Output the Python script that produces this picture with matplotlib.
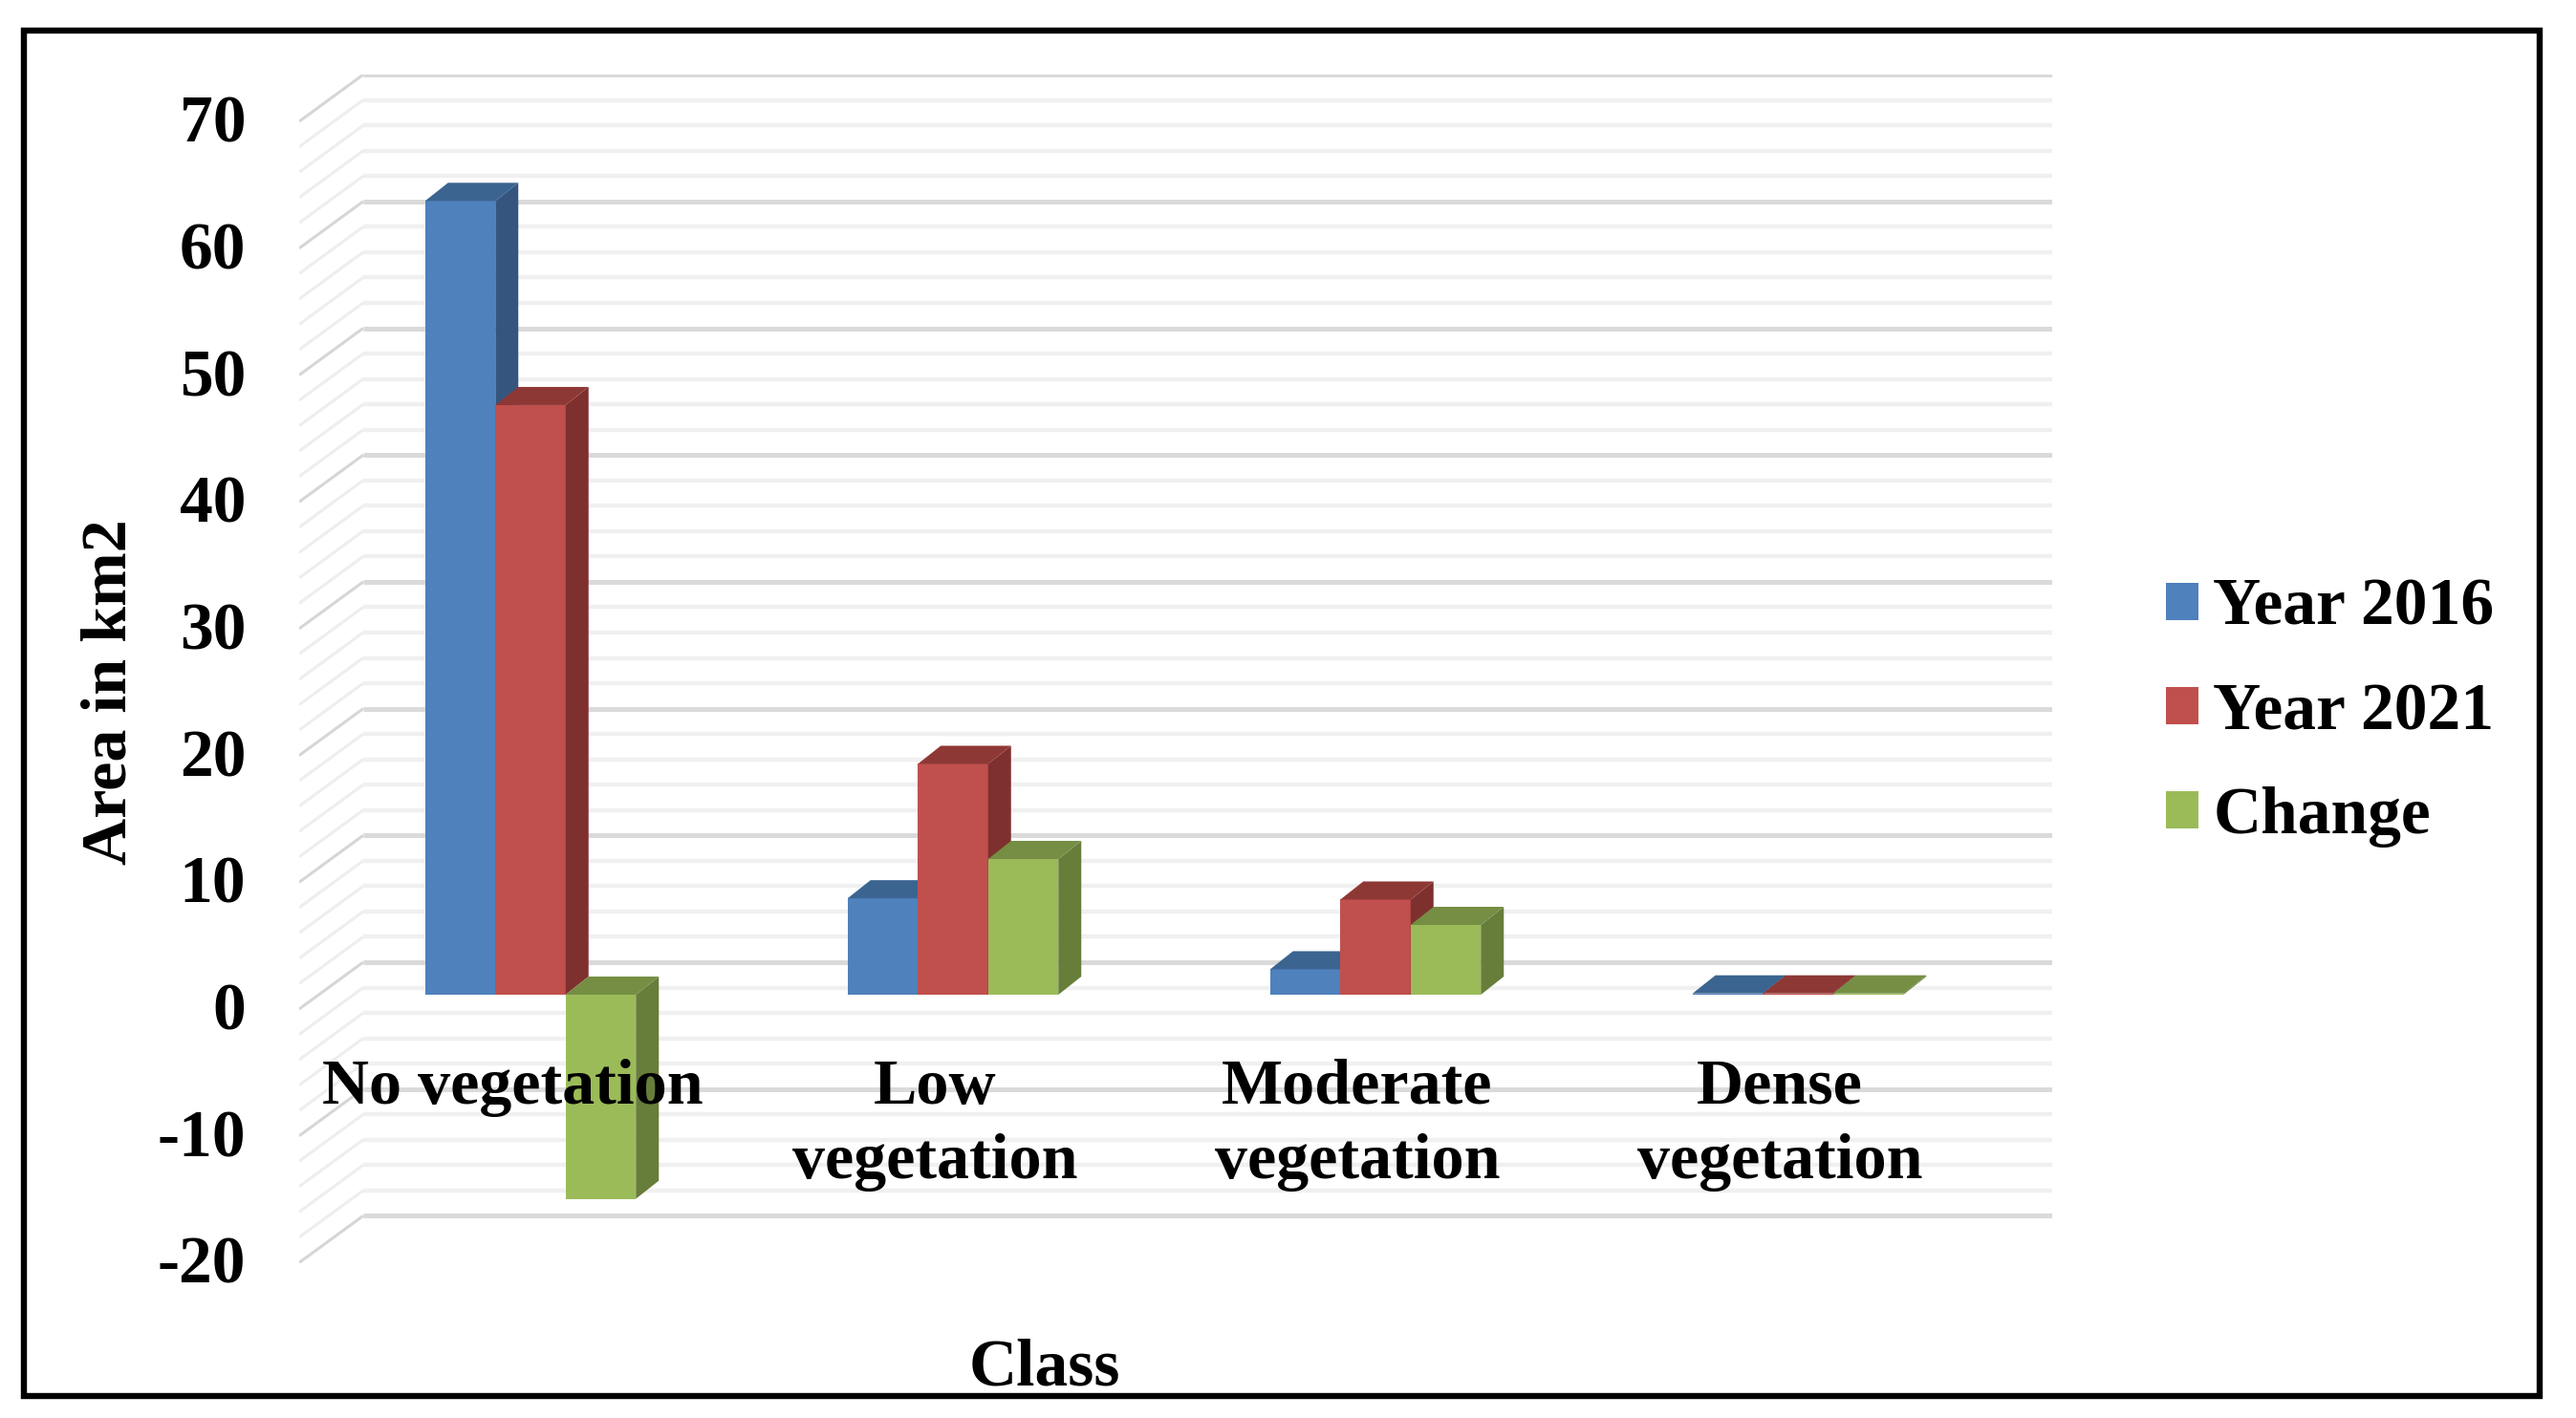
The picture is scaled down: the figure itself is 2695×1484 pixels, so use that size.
import numpy as np
import matplotlib
matplotlib.use("Agg")
import matplotlib.pyplot as plt
from matplotlib.patches import Polygon, Rectangle
from matplotlib.transforms import ScaledTranslation

W, H = 2695, 1484
DPI = 100

# data
classes = ["No vegetation", "Low\nvegetation", "Moderate\nvegetation", "Dense\nvegetation"]
year_2016 = [62.6, 7.6, 2.0, 0.1]
year_2021 = [46.5, 18.2, 7.5, 0.1]
change = [-16.1, 10.7, 5.5, 0.1]
series_names = ["Year 2016", "Year 2021", "Change"]
y_ticks = [-20, -10, 0, 10, 20, 30, 40, 50, 60, 70]
minor_ticks = list(range(-20, 71, 2))

front_cols = ["#4F81BD", "#C0504D", "#9BBB59"]
side_cols = ["#35557F", "#7E302E", "#677D3A"]
top_cols = ["#3B6491", "#8E3835", "#758E43"]

# layout in pixels of the final image
px_per_cat = 442.0
px_per_unit = 13.27
x0_px = 555.0   # front centre of first group
y0_px = 1041.0  # front zero line of the bars
ax_l, ax_r, ax_t, ax_b = 313, 2147, 78, 1322

plt.rcParams["font.family"] = ["Liberation Serif", "DejaVu Serif"]
plt.rcParams["font.weight"] = "bold"

fig = plt.figure(figsize=(W / DPI, H / DPI), dpi=DPI, facecolor="white")
ax = fig.add_axes([ax_l / W, 1 - ax_b / H, (ax_r - ax_l) / W, (ax_b - ax_t) / H])
ax.set_xlim((ax_l - x0_px) / px_per_cat, (ax_r - x0_px) / px_per_cat)
ax.set_ylim((y0_px - ax_b) / px_per_unit, (y0_px - ax_t) / px_per_unit)
ax.patch.set_visible(False)
for s in ["top", "right", "left"]:
    ax.spines[s].set_visible(False)
ax.spines["bottom"].set_position(("data", 0))
ax.spines["bottom"].set_visible(False)

# back wall and side wall grid
back_dy = 34 / px_per_unit
wall_dx = 67 / px_per_cat
side_drop = 49 / px_per_unit
x_left, x_right = ax.get_xlim()
for v in minor_ticks:
    major = v in y_ticks
    col = "#DADADA" if major else "#F0F0F0"
    lw = 3.6 if major else 3.2
    yb = v + back_dy
    ax.plot([x_left + wall_dx, x_right], [yb, yb], color=col, lw=lw, zorder=0.5, solid_capstyle="butt")
    ax.plot([x_left, x_left + wall_dx], [yb - side_drop, yb], color="#D6D6D6" if major else "#EEEEEE",
            lw=2.2, zorder=0.5, solid_capstyle="butt")

# bars with a fake 3D look
bar_w = 73.5 / px_per_cat
dep_x = 24 / px_per_cat
dep_y = 19 / px_per_unit
x = np.arange(len(classes))
handles = []
for i, vals in enumerate([year_2016, year_2021, change]):
    xs = x + (i - 1) * bar_w
    bars = ax.bar(xs, vals, width=bar_w, color=front_cols[i], label=series_names[i], zorder=1)
    handles.append(bars)
    for xc, v in zip(xs, vals):
        l, r = xc - bar_w / 2, xc + bar_w / 2
        top = max(v, 0)
        low = min(v, 0)
        ax.add_patch(Polygon([(r, low), (r + dep_x, low + dep_y), (r + dep_x, top + dep_y), (r, top)],
                             closed=True, fc=side_cols[i], ec="none", zorder=1))
        ax.add_patch(Polygon([(l, top), (l + dep_x, top + dep_y), (r + dep_x, top + dep_y), (r, top)],
                             closed=True, fc=top_cols[i], ec="none", zorder=1))

# ticks
ax.set_xticks(x)
ax.set_xticklabels(classes, fontsize=49, fontweight="bold", linespacing=1.36)
ax.set_yticks(y_ticks)
ax.set_yticklabels([str(t) for t in y_ticks], fontsize=50, fontweight="bold")
ax.tick_params(axis="x", length=0, pad=48)
ax.tick_params(axis="y", length=0, pad=40)
shift_x = ScaledTranslation(-19 / DPI, 0, fig.dpi_scale_trans)
shift_y = ScaledTranslation(0, -12 / DPI, fig.dpi_scale_trans)
for lab in ax.get_xticklabels():
    lab.set_transform(lab.get_transform() + shift_x)
for lab in ax.get_yticklabels():
    lab.set_transform(lab.get_transform() + shift_y)

# axis titles
ax.set_ylabel("Area in km2", fontsize=49, fontweight="bold")
ax.yaxis.set_label_coords((146 - ax_l) / (ax_r - ax_l), (ax_b - 724) / (ax_b - ax_t))
ax.set_xlabel("Class", fontsize=50, fontweight="bold")
ax.xaxis.set_label_coords((1093 - ax_l) / (ax_r - ax_l), (ax_b - 1432) / (ax_b - ax_t))
ax.xaxis.label.set_verticalalignment("center")

# legend
leg = fig.legend(handles=handles, labels=series_names, loc="center left",
                 bbox_to_anchor=(2266 / W, 1 - 746 / H), bbox_transform=fig.transFigure,
                 frameon=False, fontsize=50, handlelength=0.49, handleheight=0.49,
                 handletextpad=0.22, labelspacing=0.65, borderaxespad=0, borderpad=0)

# black frame round the picture
fig.add_artist(Rectangle((24.5 / W, 1 - 1460.5 / H), (2657 - 24.5) / W, (1460.5 - 31.5) / H,
                         transform=fig.transFigure, fill=False, ec="black", lw=4.6))

fig.savefig("out.png", dpi=DPI)
